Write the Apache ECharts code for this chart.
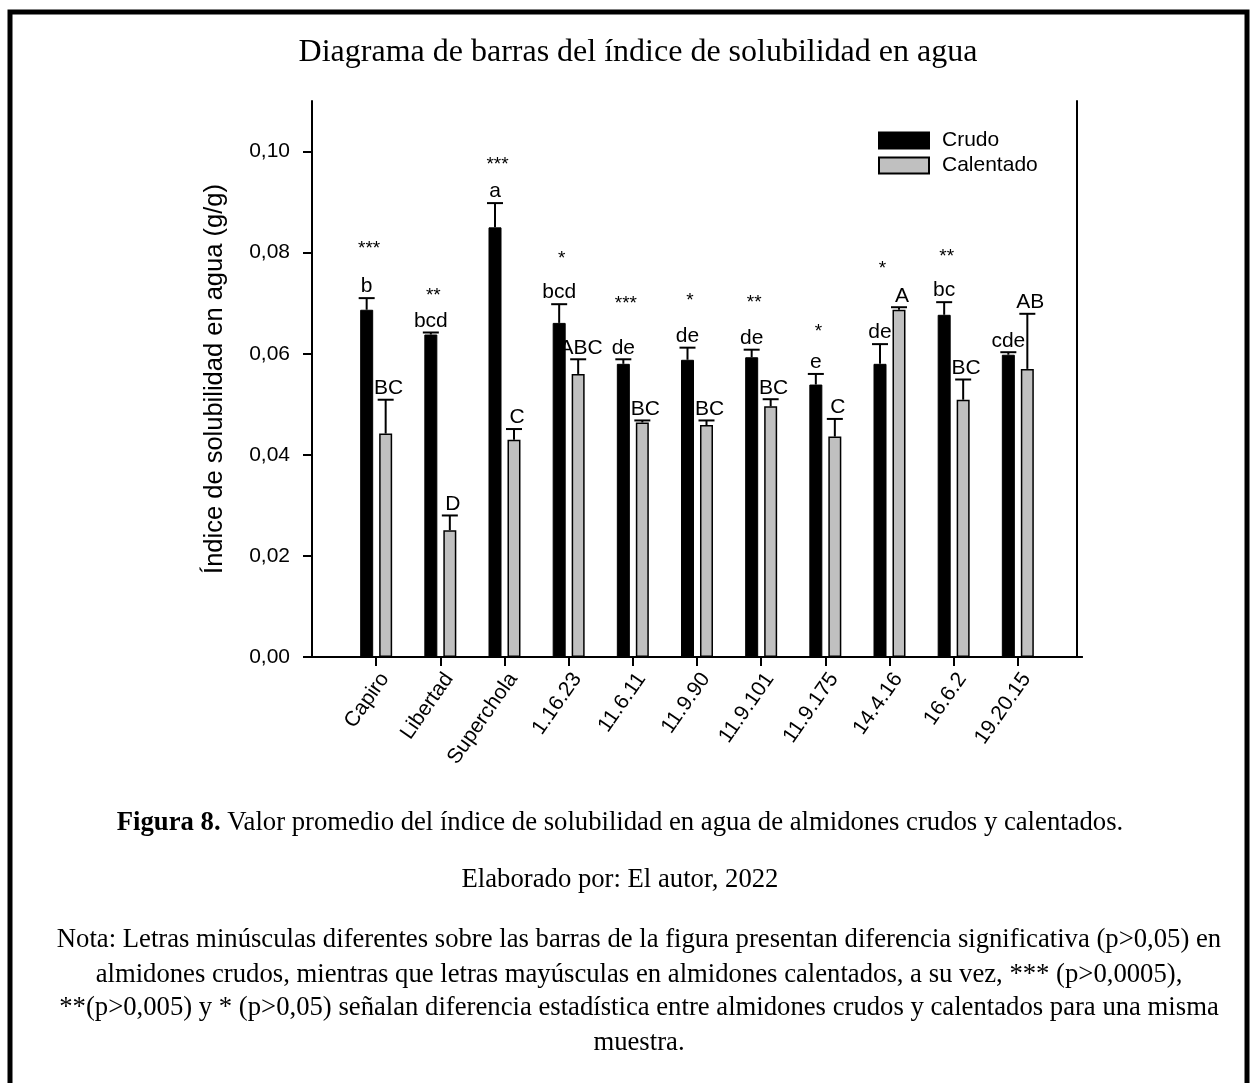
<!DOCTYPE html>
<html><head><meta charset="utf-8">
<script src="https://cdn.jsdelivr.net/npm/echarts@6/dist/echarts.min.js"></script>
<style>html,body{margin:0;padding:0;background:#fff}#c{width:1252px;height:1083px}</style>
</head><body><div id="c"></div>
<script>
const categories = ['Capiro','Libertad','Superchola','1.16.23','11.6.11','11.9.90','11.9.101','11.9.175','14.4.16','16.6.2','19.20.15'];
const crudo = [0.0687,0.0638,0.0850,0.0661,0.0580,0.0588,0.0593,0.0539,0.0580,0.0677,0.0598];
const crudoErr = [0.0023,0.0004,0.0048,0.0037,0.0009,0.0024,0.0015,0.0021,0.0039,0.0025,0.0005];
const calentado = [0.0442,0.0251,0.0430,0.0560,0.0464,0.0459,0.0496,0.0436,0.0687,0.0509,0.0570];
const calentadoErr = [0.0067,0.0029,0.0021,0.0029,0.0004,0.0009,0.0014,0.0035,0.0005,0.0040,0.0109];
const crudoLetters = ['b','bcd','a','bcd','de','de','de','e','de','bc','cde'];
const calentadoLetters = ['BC','D','C','ABC','BC','BC','BC','C','A','BC','AB'];
const stars = ['***','**','***','*','***','*','**','*','*','**',''];
const starLevels = [0.0816,0.0723,0.0982,0.0796,0.0706,0.0713,0.0708,0.0652,0.0776,0.0799,null];
const yTicks = [0,0.02,0.04,0.06,0.08,0.10];
const yMax = 0.11;

const SANS = '"Liberation Sans", Arial, sans-serif';
const SERIF = '"Liberation Serif", "Times New Roman", serif';
const axisCats = [''].concat(categories, ['']);
const pad = a => ['-'].concat(a, ['-']);

function errRender(letters, dx, textDx) {
  return function (params, api) {
    const i = params.dataIndex;
    const base = api.coord([api.value(0), api.value(1)]);
    const cap = api.coord([api.value(0), api.value(2)]);
    const x = base[0] + dx;
    return {type: 'group', children: [
      {type: 'line', shape: {x1: x, y1: base[1], x2: x, y2: cap[1]}, style: {stroke: '#000', lineWidth: 2}},
      {type: 'line', shape: {x1: x - 8, y1: cap[1], x2: x + 8, y2: cap[1]}, style: {stroke: '#000', lineWidth: 2}},
      {type: 'text', style: {text: letters[i], x: x + textDx, y: cap[1] - 1, textAlign: 'center', textVerticalAlign: 'bottom', font: '21px ' + SANS, fill: '#000'}}
    ]};
  };
}

const chart = echarts.init(document.getElementById('c'), null, {renderer: 'canvas'});
chart.setOption({
  animation: false,
  backgroundColor: '#fff',
  textStyle: {fontFamily: SANS, color: '#000'},
  grid: {left: 312, top: 101, width: 770, height: 556, containLabel: false},
  legend: {
    data: ['Crudo', 'Calentado'], orient: 'vertical', left: 878, top: 130, padding: 0,
    itemWidth: 50, itemHeight: 16, itemGap: 4, selectedMode: false, icon: 'rect',
    textStyle: {fontSize: 21, lineHeight: 16, color: '#000', fontFamily: SANS, padding: [0, 0, 0, 8]}
  },
  xAxis: [{
    type: 'category', data: axisCats, boundaryGap: false, position: 'bottom',
    axisLine: {show: true, lineStyle: {color: '#000', width: 2}},
    axisTick: {show: true, length: 9, lineStyle: {color: '#000', width: 2}, interval: (idx) => idx > 0 && idx < axisCats.length - 1},
    axisLabel: {interval: 0, rotate: 55, fontSize: 21, color: '#000', fontFamily: SANS, margin: 12, align: 'right', verticalAlign: 'top'},
    splitLine: {show: false}
  }, {
    type: 'category', data: axisCats, boundaryGap: false, position: 'top',
    axisLine: {show: true, lineStyle: {color: '#000', width: 2}},
    axisTick: {show: false}, axisLabel: {show: false}, splitLine: {show: false}
  }],
  yAxis: [{
    type: 'value', min: 0, max: yMax, position: 'left',
    name: 'Índice de solubilidad en agua (g/g)', nameLocation: 'middle', nameGap: 84,
    nameTextStyle: {fontSize: 25.5, color: '#000', fontFamily: SANS},
    axisLine: {show: true, lineStyle: {color: '#000', width: 2}},
    axisTick: {show: true, length: 9, lineStyle: {color: '#000', width: 2}, customValues: yTicks},
    axisLabel: {fontSize: 21, color: '#000', fontFamily: SANS, margin: 22, customValues: yTicks,
      formatter: v => v.toFixed(2).replace('.', ',')},
    splitLine: {show: false}
  }, {
    type: 'value', min: 0, max: yMax, position: 'right', offset: -5,
    axisLine: {show: true, lineStyle: {color: '#000', width: 2}},
    axisTick: {show: false}, axisLabel: {show: false}, splitLine: {show: false}
  }],
  series: [
    {type: 'bar', name: 'Crudo', data: pad(crudo), barWidth: 13, barGap: '46%',
      itemStyle: {color: '#000', borderColor: '#000', borderWidth: 1}},
    {type: 'bar', name: 'Calentado', data: pad(calentado), barWidth: 13,
      itemStyle: {color: '#c0c0c0', borderColor: '#000', borderWidth: 1.5}},
    {type: 'custom', name: 'errCrudo', z: 5, silent: true,
      data: categories.map((c, i) => [i + 1, crudo[i], crudo[i] + crudoErr[i]]),
      renderItem: errRender(crudoLetters, -9.5, 0)},
    {type: 'custom', name: 'errCalentado', z: 5, silent: true,
      data: categories.map((c, i) => [i + 1, calentado[i], calentado[i] + calentadoErr[i]]),
      renderItem: errRender(calentadoLetters, 9.5, 3)},
    {type: 'custom', name: 'stars', z: 5, silent: true,
      data: categories.map((c, i) => [i + 1, starLevels[i] == null ? 0 : starLevels[i]]),
      renderItem: function (params, api) {
        const i = params.dataIndex;
        if (!stars[i]) return null;
        const p = api.coord([api.value(0), api.value(1)]);
        return {type: 'text', style: {text: stars[i], x: p[0] - 7, y: p[1] + 4, textAlign: 'center', textVerticalAlign: 'middle', font: '19px ' + SANS, fill: '#000'}};
      }}
  ],
  graphic: [
    {type: 'rect', shape: {x: 10, y: 12, width: 1237, height: 1100}, style: {fill: 'none', stroke: '#000', lineWidth: 5}, silent: true},
    {type: 'text', style: {text: 'Diagrama de barras del índice de solubilidad en agua', x: 638, y: 53, textAlign: 'center', textVerticalAlign: 'middle', font: '32px ' + SERIF, fill: '#000'}},
    {type: 'text', style: {text: '{b|Figura 8.} Valor promedio del índice de solubilidad en agua de almidones crudos y calentados.', x: 620, y: 823, textAlign: 'center', textVerticalAlign: 'middle', font: '26.7px ' + SERIF, fill: '#000',
      rich: {b: {font: 'bold 26.7px ' + SERIF, fill: '#000'}}}},
    {type: 'text', style: {text: 'Elaborado por: El autor, 2022', x: 620, y: 880, textAlign: 'center', textVerticalAlign: 'middle', font: '26.7px ' + SERIF, fill: '#000'}},
    {type: 'text', style: {text: 'Nota: Letras minúsculas diferentes sobre las barras de la figura presentan diferencia significativa (p>0,05) en', x: 639, y: 940, textAlign: 'center', textVerticalAlign: 'middle', font: '26.7px ' + SERIF, fill: '#000'}},
    {type: 'text', style: {text: 'almidones crudos, mientras que letras mayúsculas en almidones calentados, a su vez, *** (p>0,0005),', x: 639, y: 975, textAlign: 'center', textVerticalAlign: 'middle', font: '26.7px ' + SERIF, fill: '#000'}},
    {type: 'text', style: {text: '**(p>0,005) y * (p>0,05) señalan diferencia estadística entre almidones crudos y calentados para una misma', x: 639, y: 1008, textAlign: 'center', textVerticalAlign: 'middle', font: '26.7px ' + SERIF, fill: '#000'}},
    {type: 'text', style: {text: 'muestra.', x: 639, y: 1043, textAlign: 'center', textVerticalAlign: 'middle', font: '26.7px ' + SERIF, fill: '#000'}}
  ]
});
</script></body></html>
